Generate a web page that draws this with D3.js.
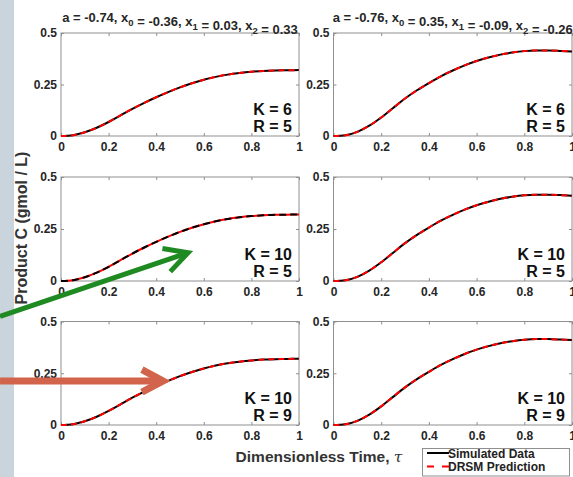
<!DOCTYPE html>
<html>
<head>
<meta charset="utf-8">
<script src="https://cdn.jsdelivr.net/npm/d3@7"></script>
<style>
  html, body { margin: 0; padding: 0; background: #fff; }
  svg { display: block; }
  text { font-family: "Liberation Sans", Arial, Helvetica, sans-serif; }
</style>
</head>
<body>
<svg id="chart" width="573" height="477"></svg>
<script>
// Dimensionless time grid shared by every curve
const tau = [0, 0.05, 0.1, 0.15, 0.2, 0.25, 0.3, 0.35, 0.4, 0.45, 0.5,
             0.55, 0.6, 0.65, 0.7, 0.75, 0.8, 0.85, 0.9, 0.95, 1.0];

// Left column: a = -0.74, x0 = -0.36, x1 = 0.03, x2 = 0.33
const simulatedLeft = [0, 0.004, 0.018, 0.040, 0.068, 0.100, 0.132, 0.161, 0.188, 0.213, 0.236,
                       0.256, 0.273, 0.287, 0.298, 0.306, 0.312, 0.316, 0.318, 0.319, 0.320];
const predictedLeft = [0, 0.004, 0.018, 0.040, 0.068, 0.100, 0.132, 0.161, 0.188, 0.213, 0.236,
                       0.256, 0.273, 0.287, 0.298, 0.306, 0.312, 0.316, 0.318, 0.319, 0.320];

// Right column: a = -0.76, x0 = 0.35, x1 = -0.09, x2 = -0.26
const simulatedRight = [0, 0.004, 0.020, 0.050, 0.090, 0.136, 0.182, 0.222, 0.257, 0.290, 0.318,
                        0.343, 0.364, 0.381, 0.395, 0.405, 0.412, 0.415, 0.415, 0.413, 0.410];
const predictedRight = [0, 0.004, 0.020, 0.050, 0.090, 0.136, 0.182, 0.222, 0.257, 0.290, 0.318,
                        0.343, 0.364, 0.381, 0.395, 0.405, 0.412, 0.415, 0.415, 0.413, 0.410];

// Tick values and labels
const xTicks = [0, 0.2, 0.4, 0.6, 0.8, 1];
const xTickLabels = ["0", "0.2", "0.4", "0.6", "0.8", "1"];
const yTicks = [0, 0.25, 0.5];
const yTickLabels = ["0", "0.25", "0.5"];

// Column titles (parameter sets), pieces: [main text, subscript]
const titleLeft = [["a = -0.74, x", "0"], [" = -0.36, x", "1"], [" = 0.03, x", "2"], [" = 0.33", ""]];
const titleRight = [["a = -0.76, x", "0"], [" = 0.35, x", "1"], [" = -0.09, x", "2"], [" = -0.26", ""]];

// Model orders per row
const kValues = [6, 10, 10];
const rValues = [5, 5, 9];

const legendLabels = ["Simulated Data", "DRSM Prediction"];

// ---------------------------------------------------------------------------
const svg = d3.select("#chart");
const W = 573, H = 477;

// left sidebar strip
svg.append("rect").attr("x", 0).attr("y", 0).attr("width", 14).attr("height", H)
  .attr("fill", "#c9d4dc");

const colX = [[61, 299], [333.5, 572]];
const rowY = [[33, 136], [177, 281], [321.5, 425]];
const columns = [
  { sim: simulatedLeft, pred: predictedLeft, title: titleLeft },
  { sim: simulatedRight, pred: predictedRight, title: titleRight }
];

const axisGray = "#8f8f8f";
const labelColor = "#262626";

const panels = [];
columns.forEach((col, ci) => {
  rowY.forEach((ry, ri) => {
    const x = d3.scaleLinear().domain([0, 1]).range(colX[ci]);
    const y = d3.scaleLinear().domain([0, 0.5]).range([ry[1], ry[0]]);
    panels.push({ ci, ri, x, y, col });
  });
});

const lineGen = (x, y) => d3.line()
  .x(d => x(d[0])).y(d => y(d[1]))
  .curve(d3.curveMonotoneX);

panels.forEach(p => {
  const { x, y, col, ci, ri } = p;
  const g = svg.append("g");
  const [x0, x1] = x.range();
  const [yb, yt] = y.range();

  // bottom axis with labels
  const bottom = g.append("g").attr("transform", `translate(0,${yb})`)
    .call(d3.axisBottom(x).tickValues(xTicks).tickFormat((d, i) => xTickLabels[i])
      .tickSizeInner(-3).tickSizeOuter(0).tickPadding(6));
  // top axis ticks only
  const top = g.append("g").attr("transform", `translate(0,${yt})`)
    .call(d3.axisTop(x).tickValues(xTicks).tickFormat("")
      .tickSizeInner(-3).tickSizeOuter(0));
  // left axis with labels
  const left = g.append("g").attr("transform", `translate(${x0},0)`)
    .call(d3.axisLeft(y).tickValues(yTicks).tickFormat((d, i) => yTickLabels[i])
      .tickSizeInner(-3).tickSizeOuter(0).tickPadding(4));
  // right axis ticks only
  const right = g.append("g").attr("transform", `translate(${x1},0)`)
    .call(d3.axisRight(y).tickValues(yTicks).tickFormat("")
      .tickSizeInner(-3).tickSizeOuter(0));

  [bottom, top, left, right].forEach(a => {
    a.select(".domain").remove();
    a.selectAll("line").attr("stroke", axisGray);
    a.selectAll("text").attr("fill", labelColor)
      .style("font-size", "12px").style("font-weight", "bold");
  });

  // box
  g.append("rect").attr("x", x0).attr("y", yt)
    .attr("width", x1 - x0).attr("height", yb - yt)
    .attr("fill", "none").attr("stroke", axisGray).attr("stroke-width", 1);

  const simData = tau.map((t, i) => [t, col.sim[i]]);
  const predData = tau.map((t, i) => [t, col.pred[i]]);
  const lg = lineGen(x, y);

  if (ci === 0 && ri === 1) {
    // prediction drawn solid underneath, simulation dashed over it
    g.append("path").attr("d", lg(predData)).attr("fill", "none")
      .attr("stroke", "#ff0000").attr("stroke-width", 2);
    g.append("path").attr("d", lg(simData)).attr("fill", "none")
      .attr("stroke", "#000").attr("stroke-width", 2).attr("stroke-dasharray", "7,4");
  } else {
    g.append("path").attr("d", lg(simData)).attr("fill", "none")
      .attr("stroke", "#000").attr("stroke-width", 2);
    g.append("path").attr("d", lg(predData)).attr("fill", "none")
      .attr("stroke", "#ff0000").attr("stroke-width", 2).attr("stroke-dasharray", "6,4");
  }

  // K / R annotations
  const ann = g.append("text").attr("text-anchor", "end")
    .style("font-size", "16px").style("font-weight", "bold").attr("fill", "#111");
  ann.append("tspan").attr("x", x1 - 7).attr("y", yb - 21.5).text(`K = ${kValues[ri]}`);
  ann.append("tspan").attr("x", x1 - 7).attr("y", yb - 4.5).text(`R = ${rValues[ri]}`);

  // column title above the first row
  if (ri === 0) {
    const t = g.append("text").attr("x", (x0 + x1) / 2).attr("y", 22)
      .attr("text-anchor", "middle").attr("fill", labelColor)
      .style("font-size", "13px").style("font-weight", "bold");
    col.title.forEach(([main, sub]) => {
      t.append("tspan").attr("dy", 0).text(main);
      if (sub) {
        t.append("tspan").attr("dy", 4).style("font-size", "9.5px").text(sub);
        t.append("tspan").attr("dy", -4).text("");
      }
    });
  }
});

// axis titles
svg.append("text")
  .attr("transform", `translate(27,228) rotate(-90)`)
  .attr("text-anchor", "middle").attr("fill", "#333")
  .style("font-size", "16px").style("font-weight", "bold")
  .text("Product C (gmol / L)");

const xl = svg.append("text").attr("x", 319).attr("y", 462)
  .attr("text-anchor", "middle").attr("fill", "#333")
  .style("font-size", "15.5px").style("font-weight", "bold");
xl.append("tspan").text("Dimensionless Time, ");
xl.append("tspan").style("font-family", "'DejaVu Serif', serif")
  .style("font-style", "italic").style("font-weight", "normal").text("τ");

// legend
const lgd = svg.append("g");
lgd.append("rect").attr("x", 422.5).attr("y", 448.5).attr("width", 147).attr("height", 27.5)
  .attr("fill", "#fff").attr("stroke", axisGray);
const legendStyles = [
  { color: "#000", dash: null },
  { color: "#ff0000", dash: "7,8" }
];
legendLabels.forEach((lab, i) => {
  const yy = 453 + i * 13.5;
  lgd.append("line").attr("x1", 427).attr("x2", 449).attr("y1", yy).attr("y2", yy)
    .attr("stroke", legendStyles[i].color).attr("stroke-width", 2)
    .attr("stroke-dasharray", legendStyles[i].dash);
  lgd.append("text").attr("x", 448).attr("y", yy + 4.5).attr("fill", "#222")
    .style("font-size", "12px").style("font-weight", "bold").text(lab);
});

// annotation arrows, anchored in the data space of the panel they point into
const arrowSpecs = [
  { panel: 1, from: [-0.256, -0.170], to: [0.534, 0.136], color: "#1f8a22", width: 5, len: 26 },
  { panel: 2, from: [-0.256, 0.213], to: [0.429, 0.213], color: "#d2644b", width: 7, len: 24 }
];
arrowSpecs.forEach(a => {
  const p = panels[a.panel];
  const sx = p.x(a.from[0]), sy = p.y(a.from[1]);
  const tx = p.x(a.to[0]), ty = p.y(a.to[1]);
  const ang = Math.atan2(sy - ty, sx - tx);
  const len = a.len, spread = 28 * Math.PI / 180;
  const w1 = [tx + len * Math.cos(ang + spread), ty + len * Math.sin(ang + spread)];
  const w2 = [tx + len * Math.cos(ang - spread), ty + len * Math.sin(ang - spread)];
  svg.append("line").attr("x1", sx).attr("y1", sy).attr("x2", tx - 2 * Math.cos(ang + Math.PI)).attr("y2", ty - 2 * Math.sin(ang + Math.PI))
    .attr("stroke", a.color).attr("stroke-width", a.width);
  svg.append("path").attr("d", `M${w1[0]},${w1[1]}L${tx},${ty}L${w2[0]},${w2[1]}`)
    .attr("fill", "none").attr("stroke", a.color).attr("stroke-width", a.width)
    .attr("stroke-linejoin", "miter").attr("stroke-linecap", "butt");
});
</script>
</body>
</html>
